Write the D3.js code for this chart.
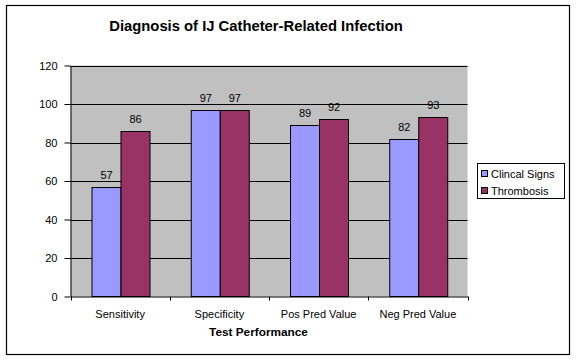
<!DOCTYPE html>
<html><head><meta charset="utf-8">
<script src="https://cdn.jsdelivr.net/npm/d3@7"></script>
<style>body{margin:0;background:#fff}svg{display:block}text{font-family:"Liberation Sans",Arial,sans-serif}</style>
</head><body><svg id="c" width="576" height="361"></svg>
<script>
const categories = ["Sensitivity","Specificity","Pos Pred Value","Neg Pred Value"];
const seriesNames = ["Clincal Signs","Thrombosis"];
const clinicalSigns = [57,97,89,82];
const thrombosis = [86,97,92,93];
const yTicks = [0,20,40,60,80,100,120];
const colors = ["#9999FF","#993366"];
const title = "Diagnosis of IJ Catheter-Related Infection";
const xTitle = "Test Performance";

const values = [clinicalSigns, thrombosis];
const svg = d3.select("#c");
const L = 70.5, R = 467.5, T = 65.5, B = 296.5;

svg.append("rect").attr("x",6.5).attr("y",5.5).attr("width",563).attr("height",349)
  .attr("fill","#fff").attr("stroke","#000").attr("stroke-width",1.2);

const x0 = d3.scaleBand().domain(categories).range([L,R]).paddingInner(0).paddingOuter(0);
const x1 = d3.scaleBand().domain(seriesNames).range([0,x0.bandwidth()]).paddingInner(0).paddingOuter(0.71);
const y = d3.scaleLinear().domain([0,120]).range([B,T]);

svg.append("rect").attr("x",L).attr("y",T).attr("width",R-L).attr("height",B-T).attr("fill","#C0C0C0");

svg.append("g").selectAll("line").data(yTicks.filter(d=>d>0)).join("line")
  .attr("x1",L).attr("x2",R).attr("y1",d=>Math.round(y(d))+0.5).attr("y2",d=>Math.round(y(d))+0.5)
  .attr("stroke","#000").attr("stroke-width",1);

const groups = svg.append("g").selectAll("g").data(categories).join("g")
  .attr("transform",d=>`translate(${x0(d)},0)`);
groups.selectAll("rect").data((d,i)=>seriesNames.map((s,j)=>({s,j,v:values[j][i]}))).join("rect")
  .attr("x",d=>Math.round(x1(d.s))+0.5).attr("width",Math.round(x1.bandwidth()))
  .attr("y",d=>Math.round(y(d.v))+0.5).attr("height",d=>B-Math.round(y(d.v))-0.5)
  .attr("fill",d=>colors[d.j]).attr("stroke","#000").attr("stroke-width",1);
groups.selectAll("text").data((d,i)=>seriesNames.map((s,j)=>({s,j,v:values[j][i]}))).join("text")
  .attr("x",d=>x1(d.s)+x1.bandwidth()/2+1).attr("y",d=>y(d.v)-8)
  .attr("text-anchor","middle").attr("font-size","11px").attr("fill","#000").text(d=>d.v);

const ya = svg.append("g").attr("transform",`translate(${L},0)`)
  .call(d3.axisLeft(y).tickValues(yTicks).tickSize(6).tickPadding(7).tickSizeOuter(0));
ya.select(".domain").attr("stroke","#000");
ya.selectAll("line").attr("stroke","#000");
ya.selectAll("text").attr("font-size","11px").attr("fill","#000").attr("font-family","Liberation Sans, Arial, sans-serif");

const xa = svg.append("g").attr("transform",`translate(0,${B})`)
  .call(d3.axisBottom(x0).tickSize(0).tickPadding(14));
xa.select(".domain").attr("stroke","#000");
xa.selectAll("text").attr("font-size","11px").attr("fill","#000").attr("font-family","Liberation Sans, Arial, sans-serif");
const bounds = categories.map(c=>x0(c)).concat([R]);
svg.append("g").selectAll("line").data(bounds).join("line")
  .attr("x1",d=>Math.round(d)+0.5).attr("x2",d=>Math.round(d)+0.5).attr("y1",B).attr("y2",B+4).attr("stroke","#000");

svg.append("text").attr("x",256).attr("y",31).attr("text-anchor","middle")
  .attr("font-size","14.8px").attr("font-weight","bold").text(title);
svg.append("text").attr("x",258.5).attr("y",336).attr("text-anchor","middle")
  .attr("font-size","11.8px").attr("font-weight","bold").text(xTitle);

const lg = svg.append("g");
lg.append("rect").attr("x",477.5).attr("y",163.5).attr("width",87).attr("height",35)
  .attr("fill","#fff").attr("stroke","#000").attr("stroke-width",1);
seriesNames.forEach((s,j)=>{
  lg.append("rect").attr("x",481.5).attr("y",170.5+j*17).attr("width",6).attr("height",6)
    .attr("fill",colors[j]).attr("stroke","#000");
  lg.append("text").attr("x",491).attr("y",177.5+j*17).attr("font-size","11px").text(s);
});
</script></body></html>
